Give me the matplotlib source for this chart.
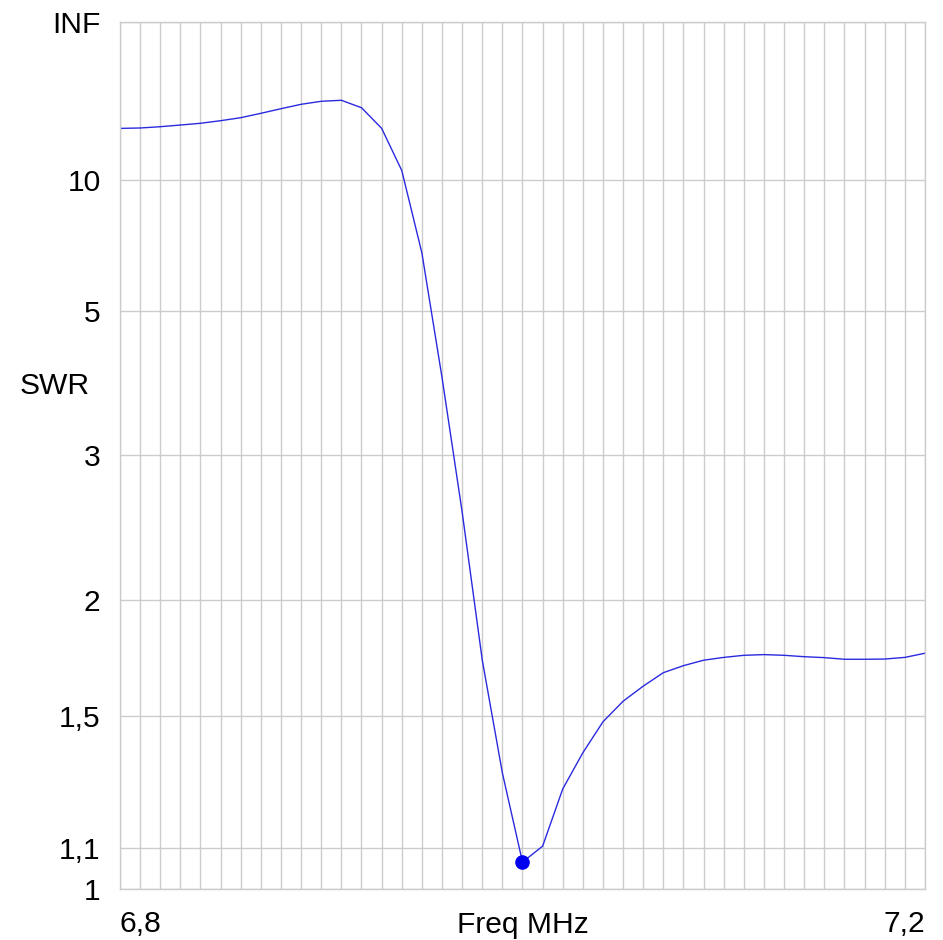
import numpy as np
import matplotlib
matplotlib.use('Agg')
import matplotlib.pyplot as plt
from matplotlib.ticker import MultipleLocator

plt.rcParams['font.family'] = ['Liberation Sans', 'DejaVu Sans']

# sweep, one point every 10 kHz
freq_mhz = [6.80, 6.81, 6.82, 6.83, 6.84, 6.85, 6.86, 6.87, 6.88, 6.89,
            6.90, 6.91, 6.92, 6.93, 6.94, 6.95, 6.96, 6.97, 6.98, 6.99,
            7.00, 7.01, 7.02, 7.03, 7.04, 7.05, 7.06, 7.07, 7.08, 7.09,
            7.10, 7.11, 7.12, 7.13, 7.14, 7.15, 7.16, 7.17, 7.18, 7.19,
            7.20]
swr = [15.3, 15.36, 15.56, 15.83, 16.12, 16.57, 17.12, 17.99, 19.0, 20.07,
       20.87, 21.15, 19.23, 15.31, 10.68, 6.51, 3.88, 2.54, 1.718, 1.309,
       1.064, 1.104, 1.261, 1.373, 1.478, 1.553, 1.611, 1.665, 1.694, 1.717,
       1.729, 1.738, 1.741, 1.738, 1.732, 1.728, 1.721, 1.721, 1.722, 1.729,
       1.747]

SWR_INF = 1e9
ytick_vals = [1, 1.1, 1.5, 2, 3, 5, 10, SWR_INF]
ytick_labels = ['1', '1,1', '1,5', '2', '3', '5', '10', 'INF']
xtick_vals = [6.8, 7.2]
xtick_labels = ['6,8', '7,2']


def to_rho(s):
    s = np.asarray(s, dtype=float)
    return (s - 1) / (s + 1)


def from_rho(r):
    r = np.clip(np.asarray(r, dtype=float), -0.999999, 1 - 1e-12)
    return (1 + r) / (1 - r)


grid_col = '#cccccc'
fs = 21.6

fig = plt.figure(figsize=(9.43, 9.40), dpi=100)
ax = fig.add_axes([120 / 943, 1 - 889 / 940, 805 / 943, 867 / 940])

ax.set_yscale('function', functions=(to_rho, from_rho))
ax.set_ylim(1, SWR_INF)
ax.set_xlim(6.8, 7.2)

ax.plot(freq_mhz, swr, color='#2a2ae0', lw=1.0)
i_min = int(np.argmin(swr))
ax.plot(freq_mhz[i_min], swr[i_min], 'o', color='#0000f0', ms=9.5)

ax.set_yticks(ytick_vals, ytick_labels)
ax.set_xticks(xtick_vals, xtick_labels)
ax.xaxis.set_minor_locator(MultipleLocator(0.01))
ax.grid(axis='y', color=grid_col, lw=1.0)
ax.grid(axis='x', which='both', color=grid_col, lw=1.0)
ax.set_axisbelow(True)

ax.tick_params(axis='both', which='both', length=0)
ax.tick_params(axis='y', labelsize=fs, pad=14)
ax.tick_params(axis='x', labelsize=fs, pad=15)
xl = ax.get_xticklabels()
xl[0].set_ha('left')
xl[-1].set_ha('right')

for sp in ax.spines.values():
    sp.set_color(grid_col)
    sp.set_linewidth(1.0)

ax.set_xlabel('Freq MHz', fontsize=fs)
ax.xaxis.set_label_coords(0.5, -36 / 867)
ax.xaxis.label.set_va('center')

fig.text(20 / 943, 1 - 386 / 940, 'SWR', fontsize=fs, ha='left', va='center')

fig.savefig('out.png', dpi=100)
